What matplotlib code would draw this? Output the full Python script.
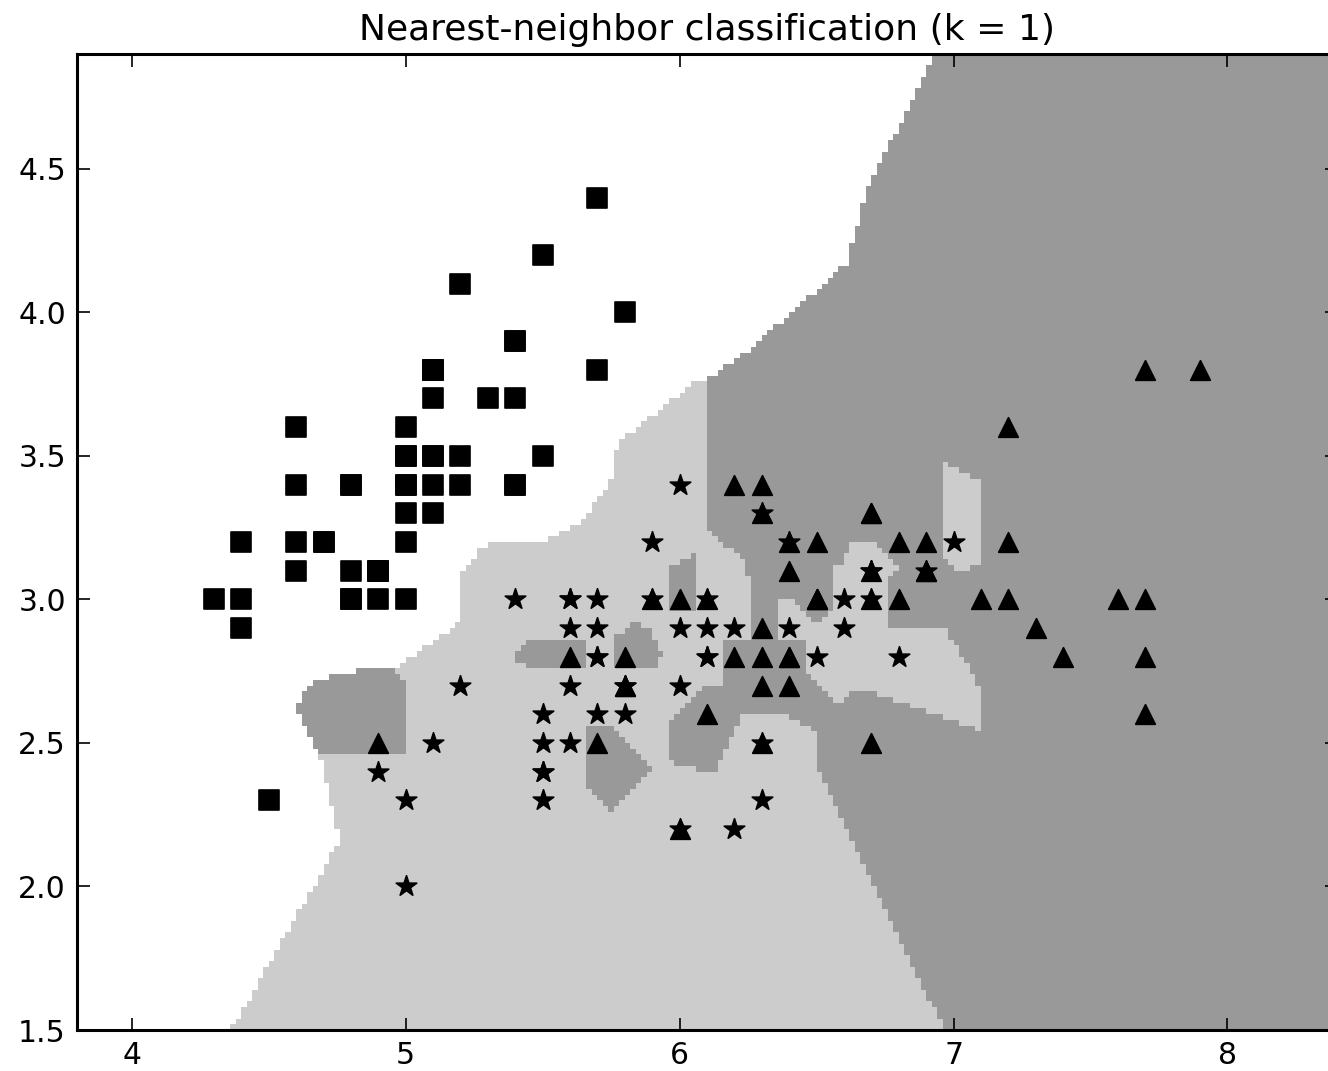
import numpy as np
import matplotlib
matplotlib.use("Agg")
import matplotlib.pyplot as plt
from matplotlib.colors import ListedColormap

# iris: sepal length / sepal width, per class
setosa_length = [5.1, 4.9, 4.7, 4.6, 5.0, 5.4, 4.6, 5.0, 4.4, 4.9,
                 5.4, 4.8, 4.8, 4.3, 5.8, 5.7, 5.4, 5.1, 5.7, 5.1,
                 5.4, 5.1, 4.6, 5.1, 4.8, 5.0, 5.0, 5.2, 5.2, 4.7,
                 4.8, 5.4, 5.2, 5.5, 4.9, 5.0, 5.5, 4.9, 4.4, 5.1,
                 5.0, 4.5, 4.4, 5.0, 5.1, 4.8, 5.1, 4.6, 5.3, 5.0]
setosa_width = [3.5, 3.0, 3.2, 3.1, 3.6, 3.9, 3.4, 3.4, 2.9, 3.1,
                3.7, 3.4, 3.0, 3.0, 4.0, 4.4, 3.9, 3.5, 3.8, 3.8,
                3.4, 3.7, 3.6, 3.3, 3.4, 3.0, 3.4, 3.5, 3.4, 3.2,
                3.1, 3.4, 4.1, 4.2, 3.1, 3.2, 3.5, 3.1, 3.0, 3.4,
                3.5, 2.3, 3.2, 3.5, 3.8, 3.0, 3.8, 3.2, 3.7, 3.3]

versicolor_length = [7.0, 6.4, 6.9, 5.5, 6.5, 5.7, 6.3, 4.9, 6.6, 5.2,
                     5.0, 5.9, 6.0, 6.1, 5.6, 6.7, 5.6, 5.8, 6.2, 5.6,
                     5.9, 6.1, 6.3, 6.1, 6.4, 6.6, 6.8, 6.7, 6.0, 5.7,
                     5.5, 5.5, 5.8, 6.0, 5.4, 6.0, 6.7, 6.3, 5.6, 5.5,
                     5.5, 6.1, 5.8, 5.0, 5.6, 5.7, 5.7, 6.2, 5.1, 5.7]
versicolor_width = [3.2, 3.2, 3.1, 2.3, 2.8, 2.8, 3.3, 2.4, 2.9, 2.7,
                    2.0, 3.0, 2.2, 2.9, 2.9, 3.1, 3.0, 2.7, 2.2, 2.5,
                    3.2, 2.8, 2.5, 2.8, 2.9, 3.0, 2.8, 3.0, 2.9, 2.6,
                    2.4, 2.4, 2.7, 2.7, 3.0, 3.4, 3.1, 2.3, 3.0, 2.5,
                    2.6, 3.0, 2.6, 2.3, 2.7, 3.0, 2.9, 2.9, 2.5, 2.8]

virginica_length = [6.3, 5.8, 7.1, 6.3, 6.5, 7.6, 4.9, 7.3, 6.7, 7.2,
                    6.5, 6.4, 6.8, 5.7, 5.8, 6.4, 6.5, 7.7, 7.7, 6.0,
                    6.9, 5.6, 7.7, 6.3, 6.7, 7.2, 6.2, 6.1, 6.4, 7.2,
                    7.4, 7.9, 6.4, 6.3, 6.1, 7.7, 6.3, 6.4, 6.0, 6.9,
                    6.7, 6.9, 5.8, 6.8, 6.7, 6.7, 6.3, 6.5, 6.2, 5.9]
virginica_width = [3.3, 2.7, 3.0, 2.9, 3.0, 3.0, 2.5, 2.9, 2.5, 3.6,
                   3.2, 2.7, 3.0, 2.5, 2.8, 3.2, 3.0, 3.8, 2.6, 2.2,
                   3.2, 2.8, 2.8, 2.7, 3.3, 3.2, 2.8, 3.0, 2.8, 3.0,
                   2.8, 3.8, 2.8, 2.8, 2.6, 3.0, 3.4, 3.1, 3.0, 3.1,
                   3.1, 3.1, 2.7, 3.2, 3.3, 3.0, 2.5, 3.0, 3.4, 3.0]

# duplicated points shared by both classes where virginica won the tie
virginica_ties = [(6.3, 3.3), (6.4, 3.2), (6.9, 3.1)]

X = np.c_[setosa_length + versicolor_length + virginica_length,
          setosa_width + versicolor_width + virginica_width]
labels = np.repeat([0, 1, 2], [len(setosa_length), len(versicolor_length),
                               len(virginica_length)])

# order training points so argmin resolves exact ties as above
first = [i for i in range(len(X))
         if labels[i] == 2 and tuple(X[i]) in virginica_ties]
order = first + [i for i in range(len(X)) if i not in first]
X_ord, lab_ord = X[order], labels[order]

# 1-nearest-neighbour over a mesh
h = 0.02
x_min, x_max = X[:, 0].min() - .5, X[:, 0].max() + .5
y_min, y_max = X[:, 1].min() - .5, X[:, 1].max() + .5
xs = np.arange(x_min, x_max, h)
ys = np.arange(y_min, y_max, h)
xx, yy = np.meshgrid(xs, ys)
grid = np.c_[xx.ravel(), yy.ravel()]
d = ((grid[:, None, :] - X_ord[None, :, :]) ** 2).sum(-1)
Z = lab_ord[d.argmin(1)].reshape(xx.shape)

xe = np.append(xs, xs[-1] + h)
ye = np.append(ys, ys[-1] + h)

cmap = ListedColormap(['#ffffff', '#cccccc', '#999999'])

fig = plt.figure(figsize=(13.28, 10.71), dpi=100)
ax = fig.add_axes([77 / 1328, 41 / 1071, 1260 / 1328, 976 / 1071])
ax.pcolormesh(xe, ye, Z, cmap=cmap, vmin=0, vmax=2, shading='flat')

ax.scatter(setosa_length, setosa_width, marker='s', s=190, c='k',
           edgecolors='k', linewidths=1.2)
ax.scatter(versicolor_length, versicolor_width, marker='*', s=240, c='k',
           edgecolors='k', linewidths=1.2)
ax.scatter(virginica_length, virginica_width, marker='^', s=200, c='k',
           edgecolors='k', linewidths=1.2)

ax.set_xlim(x_min, x_max)
ax.set_ylim(y_min, y_max)
ax.set_xticks([4, 5, 6, 7, 8])
ax.set_yticks([1.5, 2.0, 2.5, 3.0, 3.5, 4.0, 4.5])
ax.set_yticklabels(['1.5', '2.0', '2.5', '3.0', '3.5', '4.0', '4.5'])
ax.tick_params(direction='in', top=True, right=True, length=9, width=1.2,
               labelsize=21.5, pad=8)
for sp in ax.spines.values():
    sp.set_linewidth(2.2)
ax.set_title('Nearest-neighbor classification (k = 1)', fontsize=26, pad=10)

fig.savefig('out.png', dpi=100)
